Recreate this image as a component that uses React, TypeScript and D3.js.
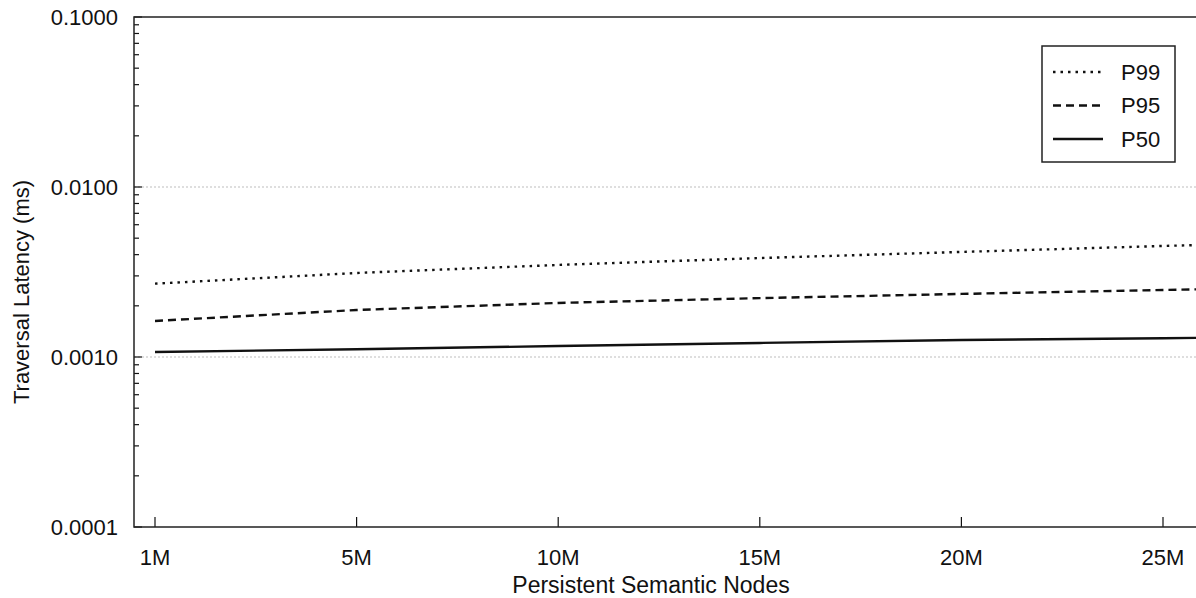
import React, { useEffect, useRef } from 'react';
import * as d3 from 'd3';

// Node counts (categorical positions); the last one sits just past the cropped right edge
const NODE_LABELS = ['1M', '5M', '10M', '15M', '20M', '25M', '30M'];
const SHOWN_LABELS = ['1M', '5M', '10M', '15M', '20M', '25M'];

// Latency in ms
const P99 = [0.00270, 0.00312, 0.00348, 0.00382, 0.00415, 0.00450, 0.00483];
const P95 = [0.00163, 0.00189, 0.00208, 0.00222, 0.00235, 0.00248, 0.00260];
const P50 = [0.00107, 0.00111, 0.00116, 0.00121, 0.00126, 0.00129, 0.00132];

const Y_TICKS = [0.0001, 0.001, 0.01, 0.1];
const GRID_TICKS = [0.001, 0.01];

const SERIES = [
  { name: 'P99', values: P99, dash: '2.5,5' },
  { name: 'P95', values: P95, dash: '8,5' },
  { name: 'P50', values: P50, dash: null as string | null },
];

const FONT = '"Liberation Sans", Arial, sans-serif';
const INK = '#111';

const App: React.FC = () => {
  const svgRef = useRef<SVGSVGElement>(null);

  useEffect(() => {
    if (!svgRef.current) return;
    const svg = d3.select(svgRef.current);
    svg.selectAll('*').remove();

    const W = 1196;
    const left = 134;
    const top = 17;
    const bottom = 527;

    // category index -> px
    const x = d3.scaleLinear().domain([0, 5]).range([155, 1163]);
    const y = d3.scaleLog().domain([0.0001, 0.1]).range([bottom, top]);

    svg.append('defs').append('clipPath').attr('id', 'plot-clip')
      .append('rect').attr('x', left).attr('y', top).attr('width', W - left).attr('height', bottom - top);

    // Grid lines
    svg.append('g')
      .selectAll('line')
      .data(GRID_TICKS)
      .join('line')
      .attr('x1', left)
      .attr('x2', W)
      .attr('y1', d => y(d))
      .attr('y2', d => y(d))
      .attr('stroke', '#bdbdbd')
      .attr('stroke-width', 1)
      .attr('stroke-dasharray', '2,2');

    // Minor log ticks (inward)
    const minor: number[] = [];
    for (let e = -4; e < -1; e++) {
      for (let m = 2; m <= 9; m++) minor.push(m * Math.pow(10, e));
    }
    svg.append('g')
      .selectAll('line')
      .data(minor)
      .join('line')
      .attr('x1', left)
      .attr('x2', left + 5)
      .attr('y1', d => y(d))
      .attr('y2', d => y(d))
      .attr('stroke', INK)
      .attr('stroke-width', 1.2);

    // Major y ticks + labels
    svg.append('g')
      .selectAll('line')
      .data(Y_TICKS)
      .join('line')
      .attr('x1', left)
      .attr('x2', left + 8)
      .attr('y1', d => y(d))
      .attr('y2', d => y(d))
      .attr('stroke', INK)
      .attr('stroke-width', 1.2);

    svg.append('g')
      .selectAll('text')
      .data(Y_TICKS)
      .join('text')
      .attr('x', left - 16)
      .attr('y', d => y(d))
      .attr('dy', '0.36em')
      .attr('text-anchor', 'end')
      .attr('font-family', FONT)
      .attr('font-size', 22)
      .attr('fill', INK)
      .text(d => d3.format('.4f')(d));

    // X ticks (inward) + labels
    svg.append('g')
      .selectAll('line')
      .data(SHOWN_LABELS)
      .join('line')
      .attr('x1', (_, i) => x(i))
      .attr('x2', (_, i) => x(i))
      .attr('y1', bottom)
      .attr('y2', bottom - 10)
      .attr('stroke', INK)
      .attr('stroke-width', 1.2);

    svg.append('g')
      .selectAll('text')
      .data(SHOWN_LABELS)
      .join('text')
      .attr('x', (_, i) => x(i))
      .attr('y', bottom + 38)
      .attr('text-anchor', 'middle')
      .attr('font-family', FONT)
      .attr('font-size', 22)
      .attr('fill', INK)
      .text(d => d);

    // Series lines
    const line = d3.line<number>()
      .x((_, i) => x(i))
      .y(d => y(d));

    const lines = svg.append('g').attr('clip-path', 'url(#plot-clip)');
    SERIES.forEach(s => {
      lines.append('path')
        .datum(s.values.slice(0, NODE_LABELS.length))
        .attr('d', line)
        .attr('fill', 'none')
        .attr('stroke', INK)
        .attr('stroke-width', 2.4)
        .attr('stroke-dasharray', s.dash)
        .attr('stroke-linecap', 'butt');
    });

    // Frame: left, bottom, top
    svg.append('path')
      .attr('d', `M${W},${top}H${left}V${bottom}H${W}`)
      .attr('fill', 'none')
      .attr('stroke', '#222')
      .attr('stroke-width', 1.5);

    // Axis titles
    svg.append('text')
      .attr('x', 651)
      .attr('y', 593)
      .attr('text-anchor', 'middle')
      .attr('font-family', FONT)
      .attr('font-size', 23)
      .attr('fill', INK)
      .text('Persistent Semantic Nodes');

    svg.append('text')
      .attr('transform', 'translate(29,292) rotate(-90)')
      .attr('text-anchor', 'middle')
      .attr('font-family', FONT)
      .attr('font-size', 22)
      .attr('fill', INK)
      .text('Traversal Latency (ms)');

    // Legend
    const lg = svg.append('g').attr('transform', 'translate(1042,46)');
    lg.append('rect')
      .attr('width', 133)
      .attr('height', 116)
      .attr('fill', '#fff')
      .attr('stroke', '#222')
      .attr('stroke-width', 1.5);
    SERIES.forEach((s, i) => {
      const cy = 26 + i * 33.5;
      lg.append('line')
        .attr('x1', 11)
        .attr('x2', 61)
        .attr('y1', cy)
        .attr('y2', cy)
        .attr('stroke', INK)
        .attr('stroke-width', 2.4)
        .attr('stroke-dasharray', s.dash);
      lg.append('text')
        .attr('x', 79)
        .attr('y', cy)
        .attr('dy', '0.36em')
        .attr('font-family', FONT)
        .attr('font-size', 22)
        .attr('fill', INK)
        .text(s.name);
    });
  }, []);

  return (
    <svg
      ref={svgRef}
      width={1196}
      height={598}
      style={{ position: 'absolute', left: 0, top: 0, background: '#fff' }}
    />
  );
};

export default App;
